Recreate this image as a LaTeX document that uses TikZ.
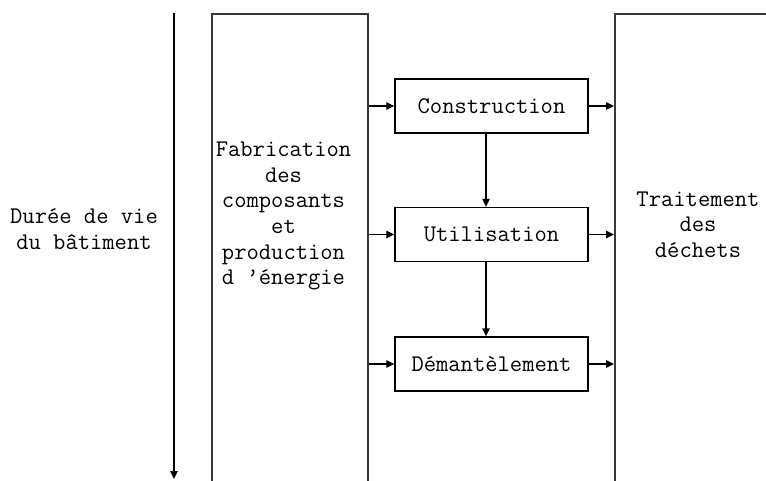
\documentclass[tikz,border=0pt]{standalone}
\usepackage{fontspec}
\usetikzlibrary{arrows.meta,positioning}

\begin{document}
\begin{tikzpicture}[
    font=\ttfamily\fontsize{13.6}{14.6}\selectfont,
    bigbox/.style={draw=black!78, line width=0.9pt, minimum height=10cm,
                   anchor=north west, inner sep=0pt},
    stage/.style={draw, line width=0.8pt, minimum width=3.86cm,
                  minimum height=1.08cm, inner sep=0pt},
    flow/.style={-{Triangle[length=1.6mm,width=1.5mm]}, line width=0.6pt}
]

\useasboundingbox (0,0) rectangle (15.32,9.6);

% time axis
\coordinate (tstart) at (3.48,9.34);
\coordinate (tend) at (3.48,0.02);
\draw[flow, line width=0.75pt] (tstart) -- (tend);
\node[align=center] (duree) at (1.68,5.02) {Durée de vie\\du bâtiment};

% upstream and downstream blocks
\node[bigbox, minimum width=3.12cm] (fab) at (4.22,9.34) {};
\node[align=center] (fabtxt) at (5.67,5.28)
    {Fabrication\\des\\composants\\et\\production\\d ’énergie};
\node[bigbox, minimum width=3.6cm] (dechets) at (12.28,9.34) {};
\node[align=center] (dechtxt) at (13.96,5.11) {Traitement\\des\\déchets};

% life cycle stages
\node[stage] (constr) at (9.83,7.48) {Construction};
\node[stage] (util) at (9.83,4.91) {Utilisation};
\node[stage] (demant) at (9.83,2.32) {Démantèlement};

% inputs and outputs
\foreach \s in {constr,util,demant}{
    \draw[flow] (\s.west -| fab.east) -- (\s.west);
    \draw[flow] (\s.east) -- (\s.east -| dechets.west);
}

% sequence
\draw[flow] ([xshift=-1.1mm]constr.south) -- ([xshift=-1.1mm]util.north);
\draw[flow] ([xshift=-1.1mm]util.south) -- ([xshift=-1.1mm]demant.north);

\end{tikzpicture}
\end{document}
